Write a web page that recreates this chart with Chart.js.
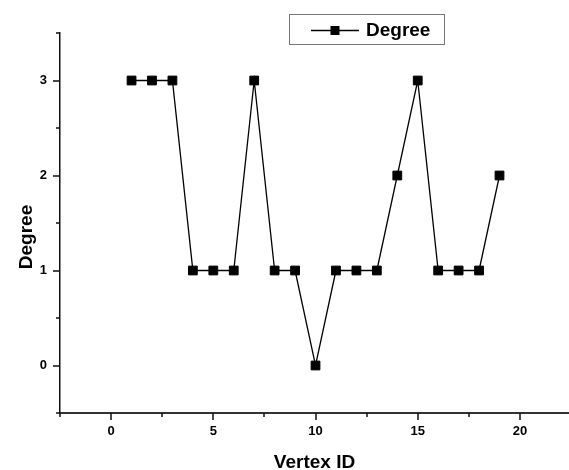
<!DOCTYPE html>
<html>
<head>
<meta charset="utf-8">
<script src="https://cdn.jsdelivr.net/npm/chart.js@4.4.0/dist/chart.umd.min.js"></script>
<style>
html,body{margin:0;padding:0;background:#fff;}
#wrap{width:569px;height:470px;position:relative;}
</style>
</head>
<body>
<div id="wrap"><canvas id="c" width="569" height="470"></canvas></div>
<script>
const vertexIds = [1,2,3,4,5,6,7,8,9,10,11,12,13,14,15,16,17,18,19];
const degrees   = [3,3,3,1,1,1,3,1,1,0,1,1,1,2,3,1,1,1,2];
const xTickValues = [-2.5,0,2.5,5,7.5,10,12.5,15,17.5,20,22.5];
const xTickLabels = ['', '0', '', '5', '', '10', '', '15', '', '20', ''];
const yTickValues = [-0.5,0,0.5,1,1.5,2,2.5,3,3.5];
const yTickLabels = ['', '0', '', '1', '', '2', '', '3', ''];
const seriesName = 'Degree';
const xTitle = 'Vertex ID';
const yTitle = 'Degree';

const FONT = 'Liberation Sans, Arial, sans-serif';

const tickPlugin = {
  id: 'tickMarks',
  afterDraw(chart) {
    const ctx = chart.ctx;
    const xs = chart.scales.x, ys = chart.scales.y;
    const area = chart.chartArea;
    ctx.save();
    ctx.strokeStyle = '#111';
    ctx.lineWidth = 1.5;
    ctx.beginPath();
    xTickValues.forEach((v, i) => {
      const px = Math.round(xs.getPixelForValue(v));
      const len = xTickLabels[i] !== '' ? 7 : 4;
      ctx.moveTo(px, area.bottom);
      ctx.lineTo(px, area.bottom + len);
    });
    yTickValues.forEach((v, i) => {
      const py = Math.round(ys.getPixelForValue(v));
      const len = yTickLabels[i] !== '' ? 7 : 4;
      ctx.moveTo(area.left, py);
      ctx.lineTo(area.left - len, py);
    });
    ctx.stroke();

    // y title (slightly below the axis centre, as in the reference)
    ctx.save();
    ctx.translate(27, (area.top + area.bottom) / 2 + 14);
    ctx.rotate(-Math.PI / 2);
    ctx.font = 'bold 19px ' + FONT;
    ctx.fillStyle = '#000';
    ctx.textAlign = 'center';
    ctx.textBaseline = 'middle';
    ctx.fillText(yTitle, 0, 0);
    ctx.restore();

    // legend box
    const bx = 289.5, by = 14.5, bw = 155, bh = 30;
    ctx.fillStyle = '#fff';
    ctx.fillRect(bx, by, bw, bh);
    ctx.strokeStyle = '#777';
    ctx.lineWidth = 1;
    ctx.strokeRect(bx, by, bw, bh);
    const cy = by + bh / 2 + 1;
    ctx.strokeStyle = '#000';
    ctx.lineWidth = 1.3;
    ctx.beginPath();
    ctx.moveTo(311, cy); ctx.lineTo(359, cy);
    ctx.stroke();
    ctx.fillStyle = '#000';
    ctx.fillRect(335 - 4.5, cy - 4.5, 9, 9);
    ctx.font = 'bold 19px ' + FONT;
    ctx.textBaseline = 'middle';
    ctx.textAlign = 'left';
    ctx.fillText(chart.data.datasets[0].label, 366, cy);
    ctx.restore();
  }
};

new Chart(document.getElementById('c'), {
  type: 'line',
  data: {
    datasets: [{
      label: seriesName,
      data: vertexIds.map((x, i) => ({x: x, y: degrees[i]})),
      borderColor: '#000',
      backgroundColor: '#000',
      borderWidth: 1.3,
      pointStyle: 'rect',
      pointRadius: 6.2,
      pointBorderWidth: 1,
      pointBorderColor: '#000',
      pointBackgroundColor: '#000',
      tension: 0,
      fill: false
    }]
  },
  options: {
    responsive: false,
    animation: false,
    events: [],
    layout: { autoPadding: false, padding: { top: 33, right: 0, left: 0, bottom: 0 } },
    plugins: { legend: { display: false }, tooltip: { enabled: false } },
    scales: {
      x: {
        type: 'linear',
        min: -2.5,
        max: 22.4,
        afterBuildTicks: (s) => { s.ticks = xTickValues.map(v => ({value: v})); },
        afterFit: (s) => { s.height = 57; s.paddingLeft = 0; s.paddingRight = 0; },
        grid: { display: true, drawOnChartArea: false, drawTicks: false },
        border: { display: true, color: '#333', width: 2 },
        ticks: {
          autoSkip: false,
          maxRotation: 0,
          padding: 11,
          color: '#000',
          font: { family: FONT, size: 13, weight: 'bold' },
          callback: (v, i) => xTickLabels[i]
        },
        title: {
          display: true,
          text: xTitle,
          color: '#000',
          font: { family: FONT, size: 19, weight: 'bold' },
          padding: { top: 0, bottom: -4 }
        }
      },
      y: {
        type: 'linear',
        min: -0.5,
        max: 3.5,
        afterBuildTicks: (s) => { s.ticks = yTickValues.map(v => ({value: v})); },
        afterFit: (s) => { s.width = 60; s.paddingTop = 0; s.paddingBottom = 0; },
        grid: { display: true, drawOnChartArea: false, drawTicks: false },
        border: { display: true, color: '#111', width: 1.5 },
        ticks: {
          autoSkip: false,
          padding: 13,
          color: '#000',
          font: { family: FONT, size: 13, weight: 'bold' },
          callback: (v, i) => yTickLabels[i]
        },
        title: { display: false }
      }
    }
  },
  plugins: [tickPlugin]
});
</script>
</body>
</html>
